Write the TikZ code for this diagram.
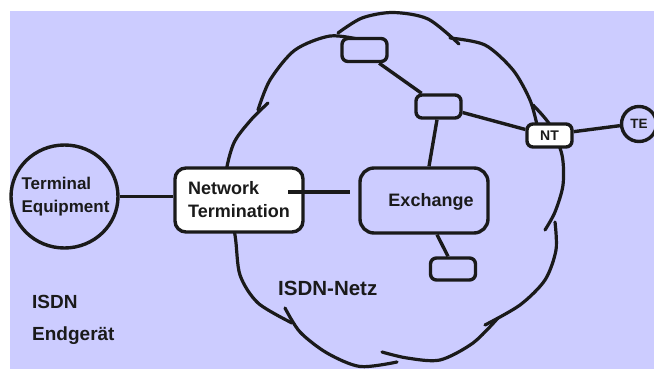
\documentclass[tikz,border=0pt]{standalone}
\usepackage{fontspec}
\setmainfont{Liberation Sans}
\usetikzlibrary{shapes.geometric}
\definecolor{bgc}{RGB}{204,204,255}
\definecolor{ink}{RGB}{26,26,26}
\begin{document}
\begin{tikzpicture}[x=1pt,y=-1pt,
  ln/.style={line width=3.4pt, draw=ink},
  cl/.style={line width=3.2pt, line cap=round, line join=round, draw=ink},
  box/.style={draw=ink, line width=3.4pt, rectangle, inner sep=0pt},
  sbox/.style={box, rounded corners=6pt, minimum width=45pt, minimum height=23pt, fill=bgc},
  txt/.style={text=ink, inner sep=0pt},
]
\fill[white] (0,0) rectangle (654,369);
\useasboundingbox (0,0) rectangle (654,369);
\fill[bgc] (10,11) rectangle (654,369);
% cloud
\draw[cl] plot[smooth] coordinates {(362,40) (330,36) (295,50) (270,80) (258,110)};
\draw[cl] plot[smooth] coordinates {(268,103) (250,121) (233,145) (225,185) (235,235) (240,275) (258,303) (292,323)};
\draw[cl] plot[smooth] coordinates {(285,308) (300,332) (327,353) (360,366.5) (397,362)};
\draw[cl] plot[smooth] coordinates {(498,318) (473,343) (440,360) (407,358) (382,352)};
\draw[cl] plot[smooth] coordinates {(555,222) (556,250) (545,280) (520,305) (485,325)};
\draw[cl] plot[smooth] coordinates {(533,105) (550,125) (562,155) (563,185) (555,212) (545,230)};
\draw[cl] plot[smooth] coordinates {(450,38) (485,45) (513,70) (530,100) (537,125)};
\draw[cl] plot[smooth] coordinates {(338,33) (362,18) (393,12.5) (428,19) (459,44)};
% nodes
\node[box, ellipse, minimum width=107pt, minimum height=103pt] (tec) at (64.5,196.5) {};
\node[txt, align=left, font={\bfseries\fontsize{17}{23}\selectfont}] (tecl) at (65.5,196.5) {Terminal\\Equipment};
\node[box, fill=white, rounded corners=11pt, minimum width=128pt, minimum height=64pt, align=left,
      font={\bfseries\fontsize{18}{23}\selectfont}, text=ink] (ntb) at (239,200) {Network\\Termination};
\node[box, fill=bgc, rounded corners=14pt, minimum width=128pt, minimum height=65pt] (ex) at (424,200.5) {};
\node[txt, font={\bfseries\fontsize{18}{22}\selectfont}] (exl) at (431,202) {Exchange};
\node[sbox] (b1) at (364.5,50) {};
\node[sbox] (b2) at (438.5,106.5) {};
\node[sbox, minimum height=22pt] (b3) at (453,269) {};
\node[sbox, fill=white, font={\bfseries\fontsize{14}{16}\selectfont}, text=ink] (nts) at (549.5,135.5) {NT};
\node[box, circle, fill=bgc, minimum size=35pt, font={\bfseries\fontsize{13.5}{15}\selectfont}, text=ink] (tes) at (639,124) {TE};
% connectors
\draw[ln] (tec.east) -- (tec.east -| ntb.west);
\coordinate (ntx) at (288,192);
\coordinate (exw) at (350,192);
\draw[ln] (ntx) -- (exw);
\draw[ln] (b1.-42) -- (b2.142);
\draw[ln] (b2.-14) -- (nts.166);
\draw[ln] ([xshift=-1.5pt]b2.south) -- ([xshift=5pt]ex.north);
\draw[ln] ([xshift=13pt]ex.south) -- ([xshift=-5pt]b3.north);
\draw[ln] (nts.9) -- (tes.185);
% labels
\node[txt, anchor=base west, font={\bfseries\fontsize{20.5}{24}\selectfont}] (netz) at (278,295) {ISDN-Netz};
\node[txt, anchor=base west, font={\bfseries\fontsize{19}{22}\selectfont}] (isdn) at (32,308) {ISDN};
\node[txt, anchor=base west, font={\bfseries\fontsize{19}{22}\selectfont}] (endg) at (32,340) {Endgerät};
\end{tikzpicture}
\end{document}
